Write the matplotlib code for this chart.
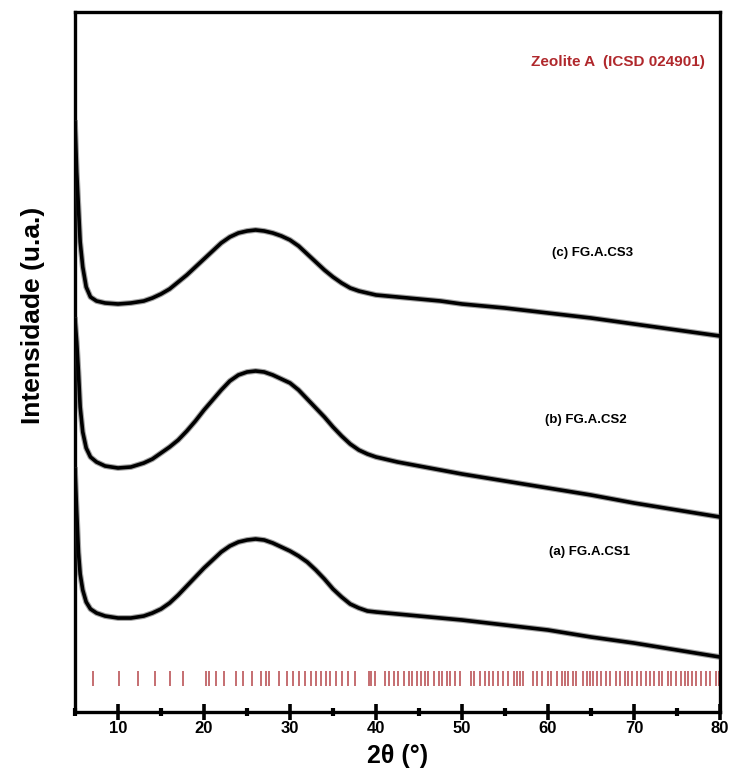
import matplotlib
matplotlib.use("Agg")
import matplotlib.pyplot as plt
from matplotlib.ticker import MultipleLocator

plt.rcParams["font.family"] = ["Liberation Sans", "DejaVu Sans"]

# Diffractograms (intensity in arbitrary units)
two_theta = [5.0, 5.2, 5.4, 5.6, 5.9, 6.3, 6.8, 7.5, 8.5, 10, 11.5, 13, 14, 15,
             16, 17, 18, 19, 20, 21, 22, 23, 24, 25, 26, 27, 28, 29, 30, 31,
             32, 33, 34, 35, 36, 37, 38, 39, 40, 42.5, 45, 47.5, 50, 55, 60,
             65, 70, 75, 80]
cs1 = [242, 200, 160, 138, 122, 110, 103, 99, 96, 94, 94, 96, 99, 103,
       109, 117, 126, 135, 144, 152, 160, 166, 170, 172, 173, 172, 169, 165, 161, 156,
       150, 142, 133, 123, 115, 108, 104, 101, 100, 98, 96, 94, 92, 87, 82,
       75, 69, 62, 55]
cs2 = [392, 370, 340, 305, 280, 264, 255, 250, 246, 244, 245, 249, 253, 259,
       265, 272, 281, 291, 302, 312, 322, 331, 337, 340, 341, 340, 337, 333, 329, 322,
       313, 304, 295, 285, 276, 268, 262, 258, 255, 250, 246, 242, 238, 231, 224,
       217, 209, 202, 195]
cs3 = [589, 540, 505, 470, 445, 425, 415, 411, 409, 408, 409, 411, 414, 418,
       423, 430, 437, 445, 453, 461, 469, 475, 479, 481, 482, 481, 479, 476, 472, 466,
       458, 450, 442, 435, 429, 424, 421, 419, 417, 415, 413, 411, 408, 404, 399,
       394, 388, 382, 376]

# Zeolite A reference reflections (ICSD 024901), 2theta in degrees
ref_peaks = [7.1, 10.1, 12.3, 14.3, 16.1, 17.5,
             20.2, 20.6, 21.4, 22.3, 23.7, 24.5, 25.6, 26.6, 27.2, 27.6, 28.7,
             29.6, 30.4, 31.05, 31.8, 32.4, 33.05, 33.6, 34.2, 34.7, 35.4,
             36.1, 36.8, 37.6, 39.2, 39.4, 39.9, 41.1, 41.5, 42.1, 42.6,
             43.2, 43.8, 44.2, 44.8, 45.2, 45.7, 46.1, 46.7, 47.3, 47.7,
             48.2, 48.6, 49.2, 49.8, 51.1, 51.4, 52.1, 52.7, 53.1, 53.6,
             54.2, 54.8, 55.4, 56.0, 56.4, 56.7, 57.1, 58.3, 58.7, 59.3,
             60.0, 60.4, 61.0, 61.6, 62.0, 62.3, 62.9, 63.3, 64.1, 64.5,
             64.9, 65.2, 65.7, 66.2, 66.7, 67.2, 67.9, 68.4, 68.9, 69.3,
             69.8, 70.3, 70.8, 71.4, 71.8, 72.3, 72.9, 73.2, 74.0, 74.3,
             74.9, 75.5, 75.9, 76.3, 76.7, 77.2, 77.8, 78.4, 78.8, 79.5, 79.9]

labels = ["(a) FG.A.CS1", "(b) FG.A.CS2", "(c) FG.A.CS3"]

fig = plt.figure(figsize=(7.31, 7.78), dpi=100)
ax = fig.add_axes([0.1026, 0.0848, 0.8824, 0.8998])

for y in (cs1, cs2, cs3):
    ax.plot(two_theta, y, color="#333333", linewidth=4.2, alpha=0.45,
            solid_joinstyle="round", zorder=3)
    ax.plot(two_theta, y, color="black", linewidth=2.6, solid_joinstyle="round", zorder=4)

ax.vlines(ref_peaks, 26, 41, color="#b5474a", linewidth=1.1, zorder=2)

ax.text(0.797, 0.229, labels[0], transform=ax.transAxes, ha="center", va="center",
        fontsize=9.5, fontweight="bold")
ax.text(0.792, 0.4175, labels[1], transform=ax.transAxes, ha="center", va="center",
        fontsize=9.5, fontweight="bold")
ax.text(0.803, 0.656, labels[2], transform=ax.transAxes, ha="center", va="center",
        fontsize=9.5, fontweight="bold")
ax.text(0.977, 0.929, "Zeolite A  (ICSD 024901)", transform=ax.transAxes,
        ha="right", va="center", fontsize=11, fontweight="bold", color="#b0282c")

ax.set_xlim(5, 80)
ax.set_ylim(0, 700)
ax.set_yticks([])
ax.xaxis.set_major_locator(MultipleLocator(10))
ax.xaxis.set_minor_locator(MultipleLocator(5))
ax.tick_params(axis="x", which="major", direction="inout", length=11, width=2.6,
               labelsize=12, pad=1)
ax.tick_params(axis="x", which="minor", direction="inout", length=6, width=3)
for lab in ax.get_xticklabels():
    lab.set_fontweight("bold")
for sp in ax.spines.values():
    sp.set_linewidth(2.4)

ax.set_xlabel("2θ (°)", fontsize=18, fontweight="bold", labelpad=6)
fig.text(0.045, 1 - 315 / 778, "Intensidade (u.a.)", rotation=90, ha="center",
         va="center", fontsize=19, fontweight="bold")

fig.savefig("out.png", dpi=100)
